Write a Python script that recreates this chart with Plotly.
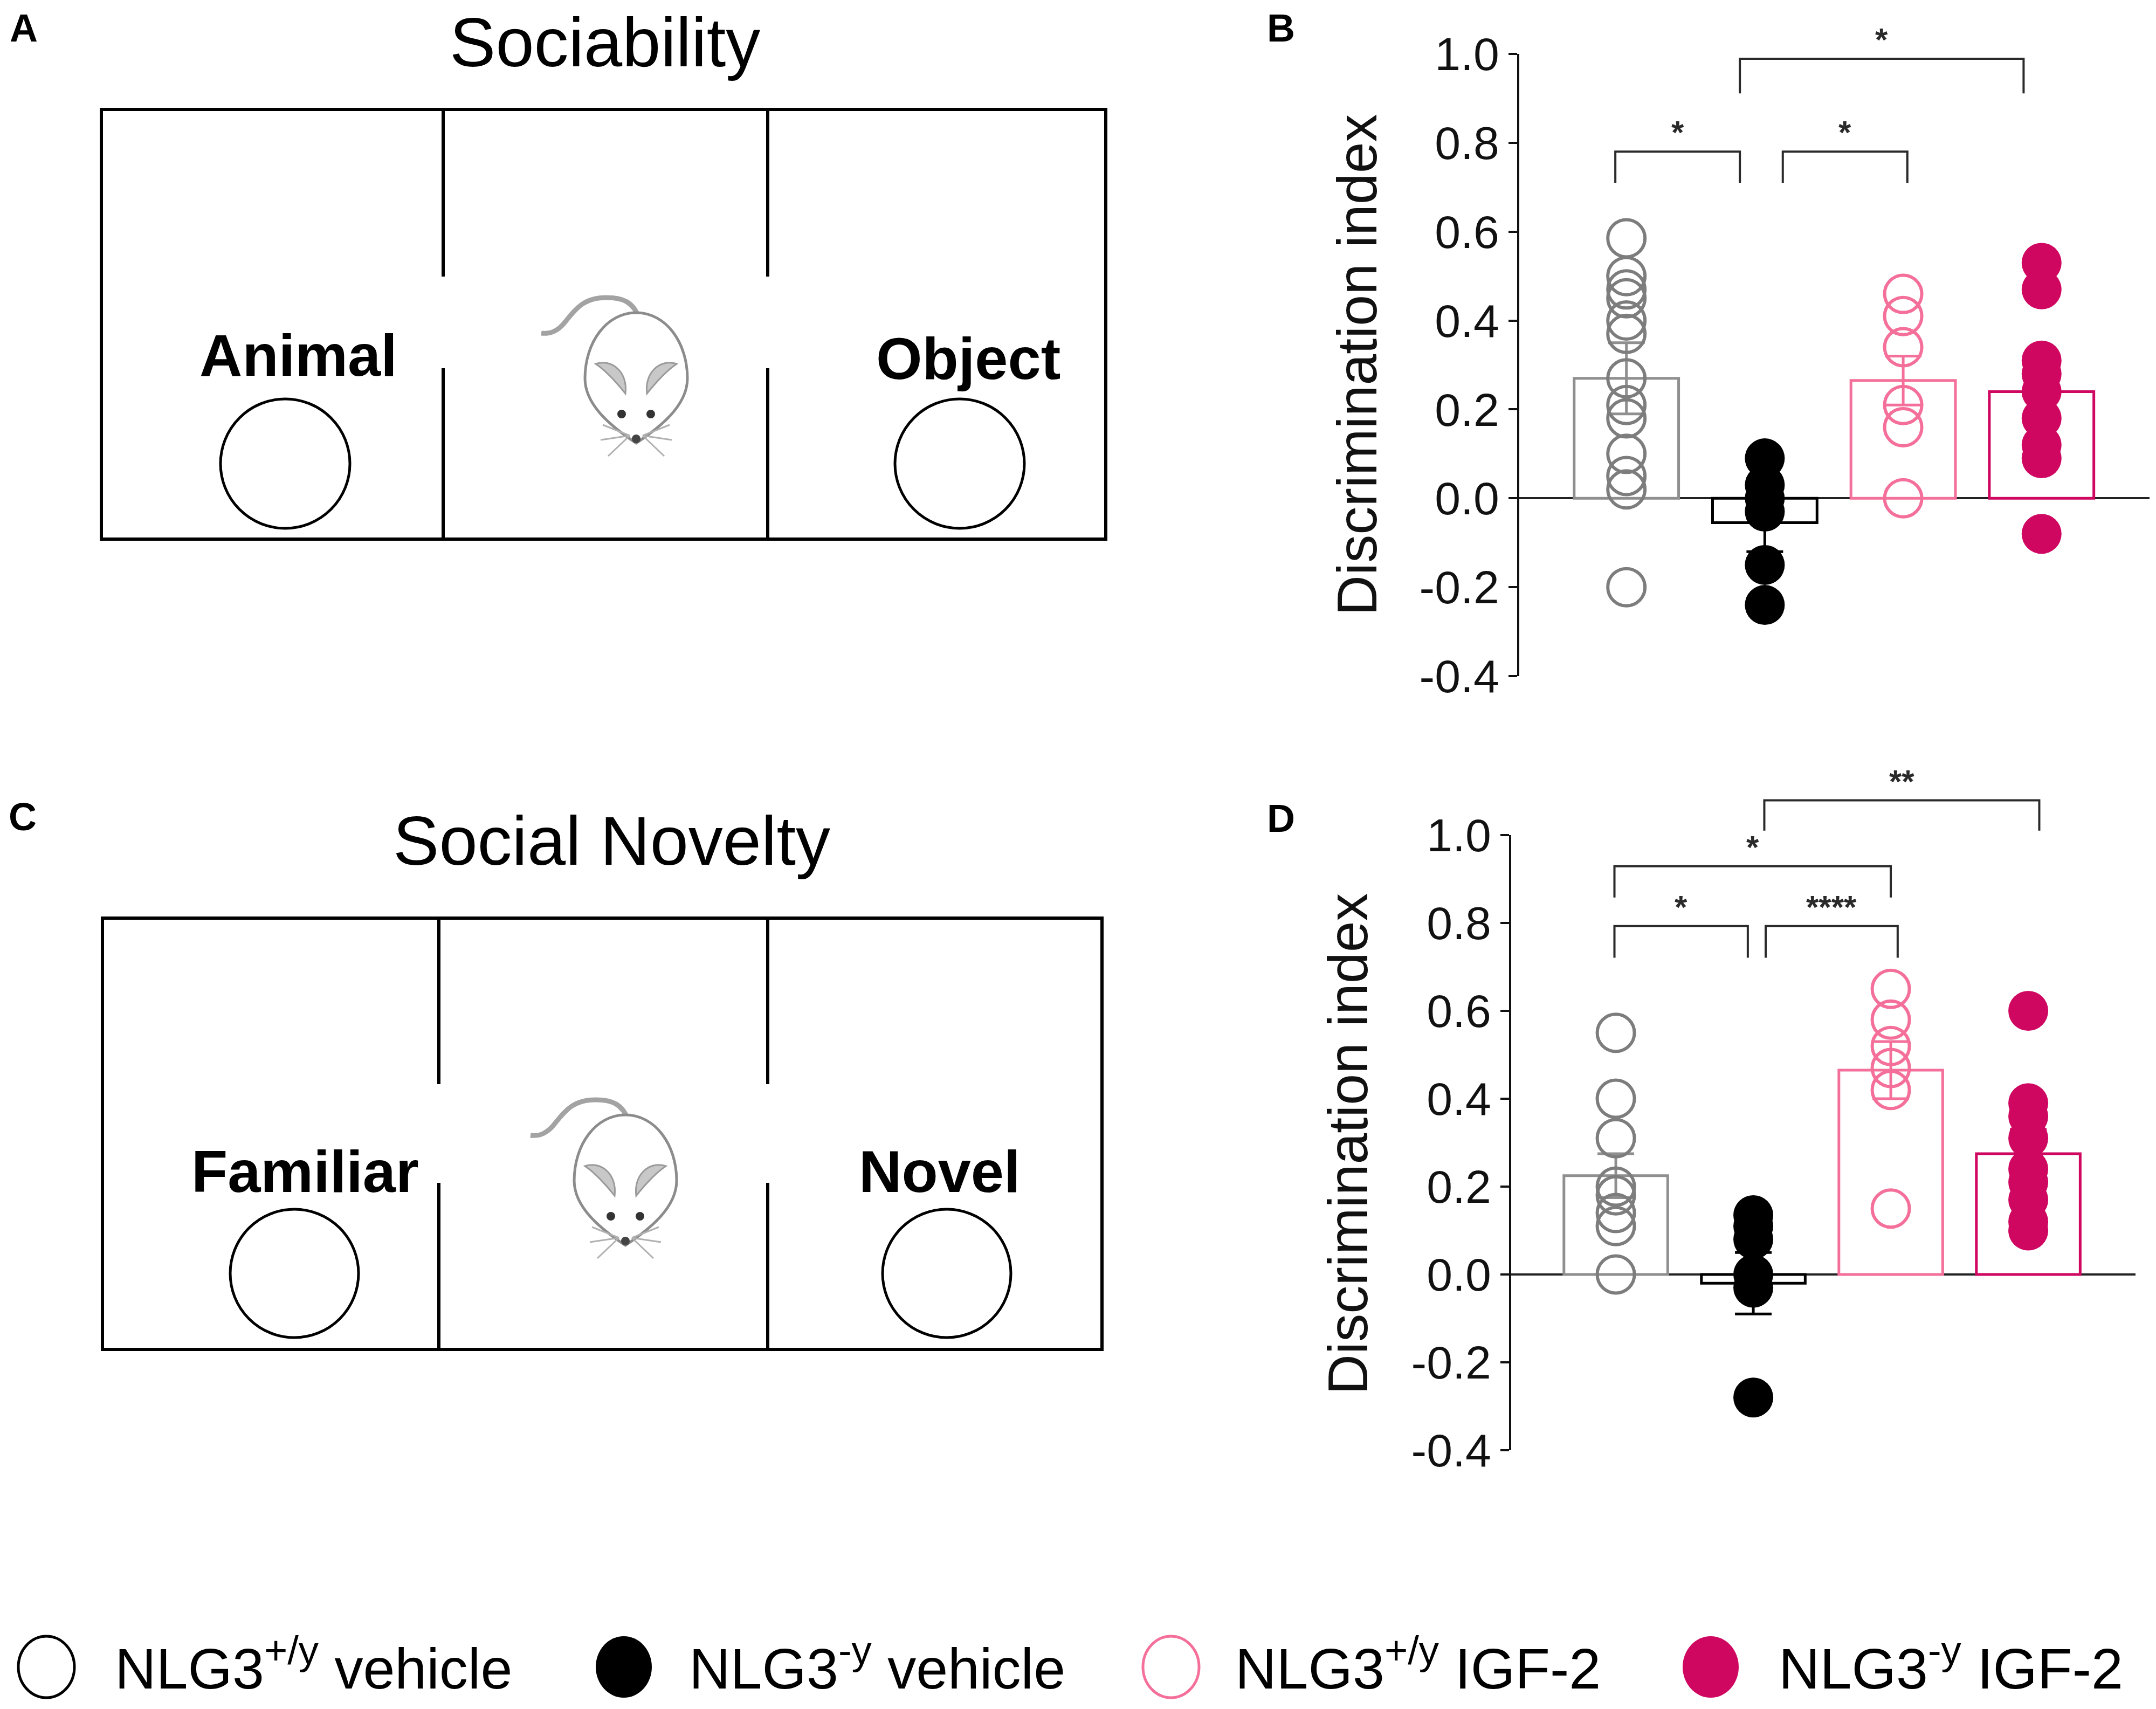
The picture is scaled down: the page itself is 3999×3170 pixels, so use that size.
import plotly.graph_objects as go

W, H = 3999, 3170
OFF = 8  # page margin of the browser
FONT = "Liberation Sans, Arial, sans-serif"

# groups and colours
groups = ["NLG3<sup>+/y</sup> vehicle", "NLG3<sup>-y</sup> vehicle",
          "NLG3<sup>+/y</sup> IGF-2", "NLG3<sup>-y</sup> IGF-2"]
dot_colors = ["#7d7d7d", "#000000", "#f4709b", "#cf0761"]
bar_colors = ["#8f8f8f", "#000000", "#f4709b", "#cf0761"]
filled = [False, True, False, True]

# B - sociability, discrimination index
soc_wt_veh = [0.585, 0.50, 0.47, 0.45, 0.40, 0.37, 0.27, 0.21, 0.18, 0.10, 0.05, 0.02, -0.20]
soc_ko_veh = [0.09, 0.03, 0.0, -0.03, -0.15, -0.24]
soc_wt_igf = [0.46, 0.41, 0.34, 0.21, 0.16, 0.0]
soc_ko_igf = [0.53, 0.47, 0.31, 0.28, 0.24, 0.18, 0.12, 0.09, -0.08]
soc_mean = [0.27, -0.055, 0.265, 0.24]
soc_sem = [0.08, 0.065, 0.055, 0.065]

# D - social novelty, discrimination index
nov_wt_veh = [0.55, 0.40, 0.31, 0.20, 0.18, 0.14, 0.11, 0.0]
nov_ko_veh = [0.135, 0.11, 0.08, 0.0, -0.03, -0.28]
nov_wt_igf = [0.65, 0.58, 0.52, 0.47, 0.42, 0.15]
nov_ko_igf = [0.60, 0.39, 0.36, 0.31, 0.24, 0.21, 0.17, 0.12, 0.10]
nov_mean = [0.225, -0.02, 0.465, 0.275]
nov_sem = [0.05, 0.07, 0.065, 0.055]

tick_vals = [-0.4, -0.2, 0.0, 0.2, 0.4, 0.6, 0.8, 1.0]
tick_text = ["-0.4", "-0.2", "0.0", "0.2", "0.4", "0.6", "0.8", "1.0"]

# significance brackets: (left, right, top, leg bottom, label)
soc_sig = [(-0.08, 0.82, 0.78, 0.71, "*"),
           (1.13, 2.03, 0.78, 0.71, "*"),
           (0.82, 2.87, 0.989, 0.911, "*")]
nov_sig = [(-0.01, 0.96, 0.793, 0.721, "*"),
           (1.09, 2.05, 0.793, 0.721, "****"),
           (-0.01, 2.0, 0.929, 0.858, "*"),
           (1.08, 3.08, 1.079, 1.01, "**")]

YMIN, YMAX = -0.4, 1.0


def px(x):
    return (x - OFF) / W


def py(y):
    return 1 - (y - OFF) / H


def ydom(v):
    return (v - YMIN) / (YMAX - YMIN)


fig = go.Figure()
shapes = []
annotations = []


def add_panel(xa, ya, samples, means, sems, sig):
    for i, vals in enumerate(samples):
        fig.add_trace(go.Bar(
            x=[i], y=[means[i]], width=0.755, xaxis=xa, yaxis=ya,
            marker=dict(color="rgba(255,255,255,0)",
                        line=dict(color=bar_colors[i], width=5)),
            error_y=dict(type="data", array=[sems[i]], color=bar_colors[i],
                         thickness=5, width=34),
            showlegend=False, hoverinfo="skip"))
    for i, vals in enumerate(samples):
        if filled[i]:
            mk = dict(symbol="circle", size=74, color=dot_colors[i], line=dict(width=0))
        else:
            mk = dict(symbol="circle-open", size=69, color=dot_colors[i],
                      line=dict(width=6, color=dot_colors[i]))
        fig.add_trace(go.Scatter(
            x=[i] * len(vals), y=vals, mode="markers", marker=mk,
            xaxis=xa, yaxis=ya, showlegend=False, cliponaxis=False))
    ydref = ya + " domain"
    for x0, x1, yt, yb, lab in sig:
        shapes.append(dict(
            type="path", xref=xa, yref=ydref,
            path=f"M {x0},{ydom(yb)} L {x0},{ydom(yt)} L {x1},{ydom(yt)} L {x1},{ydom(yb)}",
            line=dict(color="#2a2a2a", width=4)))
        annotations.append(dict(
            x=(x0 + x1) / 2, y=ydom(yt), xref=xa, yref=ydref, text=f"<b>{lab}</b>",
            showarrow=False, yanchor="bottom", xanchor="center",
            font=dict(family=FONT, size=60, color="#2a2a2a")))


add_panel("x", "y", [soc_wt_veh, soc_ko_veh, soc_wt_igf, soc_ko_igf], soc_mean, soc_sem, soc_sig)
add_panel("x2", "y2", [nov_wt_veh, nov_ko_veh, nov_wt_igf, nov_ko_igf], nov_mean, nov_sem, nov_sig)

yaxis_style = dict(
    range=[YMIN, YMAX], tickvals=tick_vals, ticktext=tick_text, automargin=False,
    ticks="outside", ticklen=16, tickwidth=4, tickcolor="#111",
    showline=True, linewidth=4, linecolor="#111",
    zeroline=True, zerolinewidth=4, zerolinecolor="#222",
    showgrid=False, ticklabelstandoff=0,
    tickfont=dict(family=FONT, size=86, color="#111"))
xaxis_style = dict(visible=False, showgrid=False, zeroline=False, automargin=False)

fig.update_layout(
    xaxis=dict(domain=[px(2818), px(3987)], range=[-0.774, 3.78], anchor="y", **xaxis_style),
    yaxis=dict(domain=[py(1254), py(100)], anchor="x", **yaxis_style),
    xaxis2=dict(domain=[px(2803), px(3961)], range=[-0.761, 3.78], anchor="y2", **xaxis_style),
    yaxis2=dict(domain=[py(2690), py(1549)], anchor="x2", **yaxis_style),
)

# axis titles
for xc, yc in [(2517, 677), (2500, 2122)]:
    annotations.append(dict(
        x=px(xc), y=py(yc), xref="paper", yref="paper", text="Discrimination index",
        textangle=-90, showarrow=False, xanchor="center", yanchor="middle",
        font=dict(family=FONT, size=104, color="#111")))


def text_at(x, baseline, txt, size, bold=False, anchor="center"):
    annotations.append(dict(
        x=px(x), y=min(py(baseline - 0.35 * size), 1 - 0.55 * size / H),
        xref="paper", yref="paper",
        text=f"<b>{txt}</b>" if bold else txt, showarrow=False,
        xanchor=anchor, yanchor="middle",
        font=dict(family=FONT, size=size, color="#000")))


def mpath(cx, top, segs, close=False):
    out = []
    for cmd, pts in segs:
        out.append(cmd + " " + " ".join(f"{px(cx + dx):.5f},{py(top + dy):.5f}" for dx, dy in pts))
    return " ".join(out) + (" Z" if close else "")


def mouse(cx, top):
    # tail
    shapes.append(dict(type="path", xref="paper", yref="paper", path=mpath(cx, top, [
        ("M", [(5, 10)]), ("C", [(-5, -20), (-25, -28), (-55, -28)]),
        ("C", [(-95, -28), (-110, -10), (-130, 15)]),
        ("C", [(-145, 35), (-160, 40), (-176, 38)])]),
        line=dict(color="#a3a3a3", width=9)))
    # body
    shapes.append(dict(type="path", xref="paper", yref="paper", path=mpath(cx, top, [
        ("M", [(0, 0)]), ("C", [(55, 0), (95, 55), (95, 122)]),
        ("C", [(95, 172), (45, 212), (0, 242)]),
        ("C", [(-45, 212), (-95, 172), (-95, 122)]),
        ("C", [(-95, 55), (-55, 0), (0, 0)])], close=True),
        fillcolor="white", line=dict(color="#8c8c8c", width=5)))
    # ears
    for s in (-1, 1):
        shapes.append(dict(type="path", xref="paper", yref="paper", path=mpath(cx, top, [
            ("M", [(s * 20, 150)]), ("C", [(s * 15, 110), (s * 45, 85), (s * 75, 95)]),
            ("C", [(s * 60, 105), (s * 40, 125), (s * 20, 150)])], close=True),
            fillcolor="#c8c8c8", line=dict(color="#9a9a9a", width=3)))
    # eyes and nose
    for dx, dy, r, c in [(-27, 188, 8, "#333"), (27, 188, 8, "#333"), (0, 234, 8, "#444")]:
        shapes.append(dict(type="circle", xref="paper", yref="paper",
                           x0=px(cx + dx - r), x1=px(cx + dx + r),
                           y0=py(top + dy + r), y1=py(top + dy - r),
                           fillcolor=c, line=dict(width=0)))
    # whiskers
    for s in (-1, 1):
        for ex, ey in [(62, 208), (66, 236), (52, 266)]:
            shapes.append(dict(type="line", xref="paper", yref="paper",
                               x0=px(cx + s * 12), y0=py(top + 228),
                               x1=px(cx + s * ex), y1=py(top + ey),
                               line=dict(color="#b0b0b0", width=3)))


def arena(x0, y0, x1, y1, dividers, gap, circles, labels, title):
    lw = dict(color="#000", width=6)
    shapes.append(dict(type="rect", xref="paper", yref="paper",
                       x0=px(x0), x1=px(x1), y0=py(y1), y1=py(y0), line=lw))
    for dx in dividers:
        for a, b in [(y0, gap[0]), (gap[1], y1)]:
            shapes.append(dict(type="line", xref="paper", yref="paper",
                               x0=px(dx), x1=px(dx), y0=py(a), y1=py(b), line=lw))
    for cx, cy, r in circles:
        shapes.append(dict(type="circle", xref="paper", yref="paper",
                           x0=px(cx - r), x1=px(cx + r), y0=py(cy + r), y1=py(cy - r),
                           line=dict(color="#000", width=5)))
    for cx, base, txt in labels:
        text_at(cx, base, txt, 110, bold=True)
    text_at(title[0], title[1], title[2], 128)


arena(188, 203, 2051, 1000, [822, 1424], (513, 683),
      [(529, 860, 120), (1780, 860, 120)],
      [(553, 697, "Animal"), (1796, 703, "Object")], (1122, 112, "Sociability"))
mouse(1180, 580)

arena(190, 1703, 2044, 2503, [814, 1424], (2011, 2194),
      [(546, 2362, 119), (1756, 2362, 119)],
      [(566, 2211, "Familiar"), (1743, 2211, "Novel")], (1134, 1604, "Social Novelty"))
mouse(1160, 2068)

# panel letters
for x, base, lab in [(44, 77, "A"), (2376, 77, "B"), (42, 1540, "C"), (2376, 1543, "D")]:
    text_at(x, base, lab, 72, bold=True)

# legend
legend_cx = [86, 1157, 2172, 3173]
legend_tx = [211, 1276, 2289, 3297]
for i in range(4):
    cx, cy = legend_cx[i], 3092
    shapes.append(dict(type="circle", xref="paper", yref="paper",
                       x0=px(cx - 52), x1=px(cx + 52), y0=py(cy + 57), y1=py(cy - 57),
                       fillcolor=dot_colors[i] if filled[i] else "white",
                       line=dict(color="#000" if i == 0 else dot_colors[i], width=0 if filled[i] else 5)))
    text_at(legend_tx[i], 3124, groups[i], 106, anchor="left")

fig.update_layout(
    width=W, height=H, margin=dict(l=0, r=0, t=0, b=0, pad=0),
    paper_bgcolor="white", plot_bgcolor="rgba(0,0,0,0)",
    barmode="overlay", showlegend=False,
    shapes=shapes, annotations=annotations)

fig.write_html("out.html")
